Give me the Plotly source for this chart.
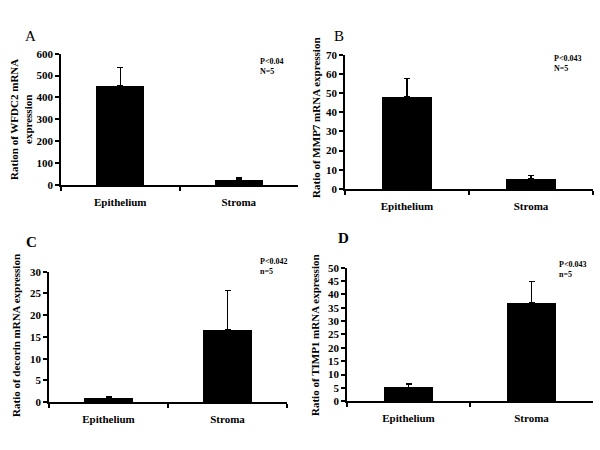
import plotly.graph_objects as go

categories = ["Epithelium", "Stroma"]

wfdc2_values = [455, 25]
wfdc2_errors = [83, 8]
mmp7_values = [48, 5.2]
mmp7_errors = [9.5, 1.8]
decorin_values = [1.0, 16.7]
decorin_errors = [0.3, 9.0]
timp1_values = [5.2, 37]
timp1_errors = [1.3, 7.8]

panels = [
    dict(vals=wfdc2_values, errs=wfdc2_errors, ymax=600, dtick=100,
         px_x=(61, 298), px_y=(49, 184), label="A", label_bold=False, label_pos=(30, 31),
         title="Ration of WFDC2 mRNA<br>expression", title_pos=(21, 117),
         stat=["P<0.04", "N=5"], stat_pos=(258, 58)),
    dict(vals=mmp7_values, errs=mmp7_errors, ymax=70, dtick=10,
         px_x=(345, 593), px_y=(50, 188), label="B", label_bold=False, label_pos=(339, 31),
         title="Ratio of MMP7 mRNA expression", title_pos=(316, 114),
         stat=["P<0.043", "N=5"], stat_pos=(552, 55)),
    dict(vals=decorin_values, errs=decorin_errors, ymax=30, dtick=5,
         px_x=(49, 287), px_y=(273, 407), label="C", label_bold=True, label_pos=(31, 242),
         title="Ratio of decorin mRNA expression", title_pos=(16, 339),
         stat=["P<0.042", "n=5"], stat_pos=(258, 264)),
    dict(vals=timp1_values, errs=timp1_errors, ymax=50, dtick=5,
         px_x=(347, 593), px_y=(269, 406), label="D", label_bold=True, label_pos=(343, 238),
         title="Ratio of TIMP1 mRNA expression", title_pos=(315, 338),
         stat=["P<0.043", "n=5"], stat_pos=(557, 267)),
]

W, H = 600, 450
FONT = "Liberation Serif"

fig = go.Figure()
annotations = []
for i, p in enumerate(panels, start=1):
    xa = "x" if i == 1 else f"x{i}"
    ya = "y" if i == 1 else f"y{i}"
    fig.add_trace(go.Bar(
        x=categories, y=p["vals"], xaxis=xa, yaxis=ya, width=0.405,
        marker=dict(color="black", line=dict(width=0)),
        error_y=dict(type="data", symmetric=False, array=p["errs"],
                     arrayminus=[0, 0], color="black", thickness=1.5, width=3),
        showlegend=False, hoverinfo="skip",
    ))
    xkey = "xaxis" if i == 1 else f"xaxis{i}"
    ykey = "yaxis" if i == 1 else f"yaxis{i}"
    x0, x1 = p["px_x"]
    yt, yb = p["px_y"]
    fig.update_layout(**{
        xkey: dict(domain=[x0 / W, x1 / W], anchor=ya, type="category",
                   range=[-0.5, 1.5], showline=True, linecolor="black", linewidth=1.5,
                   ticks="outside", tickson="boundaries", ticklen=4, tickwidth=1.5,
                   tickcolor="black", showgrid=False, zeroline=False,
                   ticklabelstandoff=6,
                   tickfont=dict(family=FONT, size=11, color="black", weight="bold")),
        ykey: dict(domain=[1 - yb / H, 1 - yt / H], anchor=xa,
                   range=[0, p["ymax"]], dtick=p["dtick"], showline=True,
                   linecolor="black", linewidth=1.5, ticks="outside", ticklen=4,
                   tickwidth=1.5, tickcolor="black", showgrid=False, zeroline=False,
                   tickfont=dict(family=FONT, size=11, color="black", weight="bold")),
    })
    lx, ly = p["label_pos"]
    annotations.append(dict(
        text=p["label"], x=lx / W, y=1 - ly / H, xref="paper", yref="paper",
        showarrow=False, xanchor="center", yanchor="middle",
        font=dict(family=FONT, size=15, color="black",
                  weight="bold" if p["label_bold"] else "normal")))
    tx, ty = p["title_pos"]
    annotations.append(dict(
        text=p["title"], x=tx / W, y=1 - ty / H, xref="paper", yref="paper",
        showarrow=False, xanchor="center", yanchor="middle", textangle=-90,
        font=dict(family=FONT, size=11, color="black", weight="bold")))
    sx, sy = p["stat_pos"]
    annotations.append(dict(
        text="<br>".join(p["stat"]), x=sx / W, y=1 - (sy - 8) / H, xref="paper",
        yref="paper", showarrow=False, xanchor="left", yanchor="top", align="left",
        font=dict(family=FONT, size=8, color="black", weight="bold")))

fig.update_layout(
    width=W, height=H, margin=dict(l=0, r=0, t=0, b=0),
    paper_bgcolor="white", plot_bgcolor="white",
    annotations=annotations, bargap=0,
)

fig.write_html("out.html", config={"displayModeBar": False},
               post_script="document.body.style.margin='0';document.body.style.overflow='hidden';")
